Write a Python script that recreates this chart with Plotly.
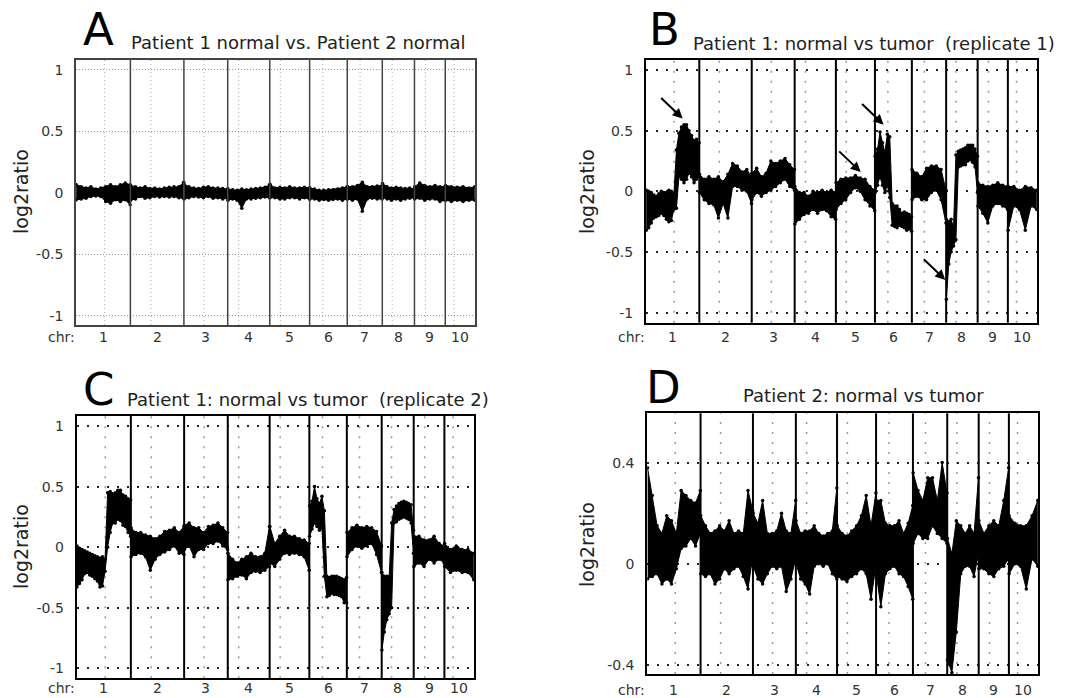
import plotly.graph_objects as go

# ---------------- data ----------------
CHR_NAMES = ["1", "2", "3", "4", "5", "6", "7", "8", "9", "10"]
CHR_LEN = [247, 243, 199, 191, 181, 171, 159, 146, 140, 135]          # Mb
CENTROMERE = [130, 93, 91, 50, 48, 60, 58, 45, 50, 40]                 # Mb within chromosome

# Upper / lower edge of the log2ratio point cloud, evenly spaced along each chromosome
A_HI = [
    [0.065, 0.05, 0.04, 0.05, 0.03, 0.04, 0.05, 0.065, 0.05, 0.065, 0.08, 0.065],
    [0.06, 0.05, 0.04, 0.05, 0.035, 0.04, 0.03, 0.04, 0.045, 0.05, 0.05, 0.085],
    [0.07, 0.05, 0.04, 0.035, 0.045, 0.05, 0.04, 0.04, 0.035, 0.03],
    [0.03, 0.025, 0.02, 0.03, 0.025, 0.03, 0.035, 0.04, 0.045, 0.065],
    [0.07, 0.04, 0.045, 0.04, 0.05, 0.04, 0.04, 0.045, 0.04],
    [0.04, 0.03, 0.02, 0.02, 0.025, 0.025, 0.03, 0.04, 0.05],
    [0.05, 0.05, 0.06, 0.085, 0.05, 0.05, 0.055, 0.06],
    [0.075, 0.05, 0.04, 0.045, 0.04, 0.035, 0.04, 0.03],
    [0.05, 0.08, 0.06, 0.05, 0.06, 0.05, 0.05],
    [0.06, 0.05, 0.045, 0.05, 0.04, 0.05],
]
A_LO = [
    [-0.057, -0.05, -0.045, -0.03, -0.025, -0.03, -0.07, -0.085, -0.057, -0.07, -0.057, -0.098],
    [-0.06, -0.05, -0.03, -0.045, -0.04, -0.03, -0.035, -0.03, -0.035, -0.03, -0.04, -0.045],
    [-0.05, -0.04, -0.03, -0.035, -0.04, -0.03, -0.045, -0.04, -0.05, -0.045],
    [-0.06, -0.05, -0.06, -0.125, -0.05, -0.05, -0.045, -0.04, -0.035, -0.04],
    [-0.04, -0.04, -0.05, -0.05, -0.04, -0.04, -0.05, -0.04, -0.05],
    [-0.05, -0.05, -0.06, -0.055, -0.06, -0.055, -0.05, -0.06, -0.05],
    [-0.05, -0.06, -0.05, -0.15, -0.05, -0.045, -0.05, -0.05],
    [-0.04, -0.05, -0.06, -0.05, -0.06, -0.05, -0.045, -0.04],
    [-0.05, -0.045, -0.06, -0.05, -0.05, -0.07, -0.06],
    [-0.06, -0.07, -0.06, -0.07, -0.06, -0.06],
]

B_HI = [
    [0.01, 0.0, -0.01, -0.03, -0.04, -0.02, 0.0, -0.01, -0.01, 0.01, 0.0,
     -0.02, 0.34, 0.48, 0.53, 0.55, 0.55, 0.5, 0.46, 0.42, 0.43, 0.4],
    [0.14, 0.1, 0.12, 0.1, 0.12, 0.08, 0.14, 0.23, 0.21, 0.16, 0.18, 0.12],
    [0.15, 0.19, 0.12, 0.15, 0.25, 0.23, 0.25, 0.27, 0.22, 0.18],
    [0.04, -0.01, -0.01, -0.04, 0.0, -0.01, 0.01, -0.01, 0.01, -0.01],
    [0.07, 0.1, 0.11, 0.11, 0.13, 0.11, 0.1, 0.04, 0.01],
    [0.29, 0.35, 0.49, 0.4, 0.32, 0.47, 0.45, -0.1, -0.12, -0.12, -0.15, -0.18,
     -0.17, -0.18, -0.19, -0.21],
    [0.18, 0.15, 0.12, 0.19, 0.21, 0.21, 0.18, 0.01],
    [-0.23, -0.25, -0.23, -0.3, 0.3, 0.33, 0.34, 0.35, 0.36, 0.38, 0.38, 0.38, 0.35, 0.29],
    [0.07, 0.05, 0.04, 0.05, 0.07, 0.05, 0.04],
    [0.04, 0.04, 0.01, 0.04, 0.03, 0.01],
]
B_LO = [
    [-0.32, -0.3, -0.26, -0.22, -0.21, -0.2, -0.18, -0.2, -0.23, -0.25, -0.24,
     -0.15, -0.14, 0.12, 0.1, 0.07, 0.1, 0.15, 0.12, 0.07, 0.1, 0.12],
    [-0.01, -0.07, -0.1, -0.11, -0.22, -0.1, -0.22, 0.04, 0.04, 0.01, 0.0, -0.1],
    [-0.07, -0.01, -0.04, -0.01, 0.01, 0.04, 0.07, 0.1, 0.04, 0.01],
    [-0.27, -0.23, -0.19, -0.18, -0.15, -0.18, -0.15, -0.16, -0.21, -0.23],
    [-0.15, -0.1, -0.07, -0.01, 0.03, 0.0, -0.07, -0.12, -0.16],
    [-0.01, 0.05, 0.12, 0.05, -0.01, 0.05, -0.05, -0.28, -0.29, -0.3, -0.28, -0.29,
     -0.3, -0.32, -0.31, -0.33],
    [-0.07, -0.04, -0.07, -0.07, -0.01, 0.01, -0.07, -0.26],
    [-0.89, -0.6, -0.5, -0.45, -0.4, 0.2, 0.21, 0.22, 0.22, 0.25, 0.26, 0.24, 0.2, -0.01],
    [-0.12, -0.18, -0.26, -0.12, -0.1, -0.12, -0.15],
    [-0.32, -0.12, -0.15, -0.32, -0.12, -0.15],
]

C_HI = [
    [0.01, -0.01, -0.02, -0.03, -0.04, -0.05, -0.06, -0.07, -0.08, -0.09, -0.08,
     -0.1, 0.45, 0.46, 0.44, 0.45, 0.47, 0.47, 0.43, 0.42, 0.4, 0.39],
    [0.16, 0.12, 0.12, 0.1, 0.09, 0.07, 0.09, 0.13, 0.14, 0.16, 0.12, 0.17],
    [0.18, 0.2, 0.16, 0.16, 0.12, 0.17, 0.18, 0.2, 0.16, 0.12],
    [-0.05, -0.1, -0.13, -0.1, -0.08, -0.05, -0.08, -0.08, -0.05, 0.17],
    [0.17, 0.03, 0.09, 0.14, 0.09, 0.09, 0.07, 0.06, 0.03],
    [0.34, 0.38, 0.5, 0.4, 0.36, 0.42, 0.3, -0.24, -0.25, -0.24, -0.24, -0.24,
     -0.25, -0.26, -0.27, -0.25],
    [0.12, 0.16, 0.18, 0.16, 0.17, 0.16, 0.13, 0.01],
    [-0.21, -0.24, -0.24, -0.24, 0.2, 0.31, 0.34, 0.36, 0.37, 0.38, 0.37, 0.36, 0.35, 0.14],
    [0.09, 0.09, 0.06, 0.06, 0.09, 0.03, 0.01],
    [0.03, -0.02, 0.01, -0.02, -0.02, -0.05],
]
C_LO = [
    [-0.33, -0.3, -0.27, -0.22, -0.21, -0.23, -0.24, -0.26, -0.28, -0.33, -0.32,
     -0.2, 0.0, 0.12, 0.2, 0.2, 0.23, 0.22, 0.18, 0.17, 0.12, 0.09],
    [-0.08, -0.06, -0.05, -0.08, -0.19, -0.1, -0.06, -0.04, -0.02, 0.01, -0.05, -0.06],
    [-0.02, 0.01, -0.08, -0.02, -0.02, 0.03, 0.03, 0.05, 0.01, -0.02],
    [-0.27, -0.26, -0.24, -0.23, -0.26, -0.21, -0.2, -0.21, -0.19, -0.16],
    [-0.13, -0.16, -0.1, -0.05, -0.06, -0.05, -0.06, -0.08, -0.19],
    [0.09, 0.15, 0.2, 0.17, 0.14, 0.16, -0.24, -0.41, -0.4, -0.38, -0.39, -0.39,
     -0.4, -0.41, -0.46, -0.46],
    [-0.08, -0.02, 0.01, -0.01, 0.01, 0.03, -0.06, -0.21],
    [-0.85, -0.7, -0.6, -0.55, -0.5, 0.2, 0.21, 0.23, 0.24, 0.25, 0.24, 0.23, 0.2, -0.05],
    [-0.16, -0.13, -0.16, -0.1, -0.13, -0.1, -0.13],
    [-0.16, -0.21, -0.19, -0.21, -0.21, -0.27],
]

D_HI = [
    [0.38, 0.27, 0.15, 0.12, 0.19, 0.17, 0.12, 0.29, 0.27, 0.25, 0.24, 0.29],
    [0.19, 0.15, 0.12, 0.13, 0.15, 0.13, 0.17, 0.12, 0.13, 0.12, 0.29, 0.21],
    [0.2, 0.16, 0.25, 0.12, 0.12, 0.13, 0.2, 0.13, 0.12, 0.25],
    [0.17, 0.12, 0.13, 0.13, 0.15, 0.12, 0.11, 0.12, 0.13, 0.3],
    [0.15, 0.12, 0.11, 0.13, 0.15, 0.19, 0.27, 0.15, 0.28],
    [0.25, 0.25, 0.16, 0.15, 0.15, 0.17, 0.12, 0.16, 0.23],
    [0.36, 0.29, 0.25, 0.34, 0.34, 0.25, 0.4, 0.28],
    [0.1, 0.04, 0.17, 0.15, 0.12, 0.15, 0.12, 0.34],
    [0.17, 0.12, 0.15, 0.17, 0.15, 0.25, 0.38],
    [0.19, 0.16, 0.15, 0.15, 0.19, 0.25],
]
D_LO = [
    [-0.06, -0.05, -0.04, -0.08, -0.06, -0.08, -0.02, 0.06, 0.07, 0.1, 0.07, 0.12],
    [-0.04, -0.05, -0.04, -0.08, -0.06, -0.02, -0.04, -0.02, -0.01, -0.05, -0.1, 0.03],
    [-0.01, -0.06, -0.08, -0.04, -0.01, -0.02, -0.01, -0.11, -0.06, 0.02],
    [0.0, -0.06, -0.08, -0.12, -0.01, 0.0, -0.01, 0.0, -0.04, -0.06],
    [-0.05, -0.06, -0.07, -0.05, -0.04, -0.02, -0.04, -0.14, -0.01],
    [-0.04, -0.17, -0.04, -0.02, -0.01, -0.04, -0.05, -0.09, -0.14],
    [0.08, 0.12, 0.1, 0.1, 0.15, 0.12, 0.1, 0.08],
    [-0.38, -0.43, -0.27, -0.04, -0.01, -0.01, -0.05, 0.04],
    [-0.02, -0.02, -0.04, -0.05, -0.02, -0.01, 0.02],
    [-0.04, 0.0, -0.01, -0.1, 0.02, -0.01],
]

PANEL_LETTERS = ["A", "B", "C", "D"]
PANEL_TITLES = [
    "Patient 1 normal vs. Patient 2 normal",
    "Patient 1: normal vs tumor  (replicate 1)",
    "Patient 1: normal vs tumor  (replicate 2)",
    "Patient 2: normal vs tumor",
]
Y_TICKS_FULL = [1, 0.5, 0, -0.5, -1]
Y_TICKTEXT_FULL = ["1", "0.5", "0", "-0.5", "-1"]
Y_TICKS_D = [0.4, 0, -0.4]
Y_TICKTEXT_D = ["0.4", "0", "-0.4"]

# arrows in panel B: (genome position Mb, log2ratio of arrow tip)
B_ARROW_X = [170, 1101, 995, 1387]
B_ARROW_Y = [0.60, 0.55, 0.16, -0.73]

# ---------------- layout helpers ----------------
W, H = 1071, 698
FONT = "DejaVu Sans"

chr_start = []
acc = 0
for L in CHR_LEN:
    chr_start.append(acc)
    acc += L
GENOME = acc
chr_mid = [s + L / 2 for s, L in zip(chr_start, CHR_LEN)]

# panel frames in pixels: (left, top, right, bottom)
FRAMES = [
    (76, 60, 475, 325),
    (646, 60, 1037, 322.7),
    (76.7, 416, 474, 678.3),
    (647.3, 413.3, 1038, 674),
]
YRANGES = [[-1.075, 1.08], [-1.083, 1.083], [-1.083, 1.083], [-0.436, 0.595]]

fig = go.Figure()

panels = [(A_HI, A_LO), (B_HI, B_LO), (C_HI, C_LO), (D_HI, D_LO)]
for p, (HI, LO) in enumerate(panels):
    xa = "x" if p == 0 else f"x{p+1}"
    ya = "y" if p == 0 else f"y{p+1}"
    for c in range(10):
        n = len(HI[c])
        s, L = chr_start[c], CHR_LEN[c]
        xs = [s + 1 + (L - 2) * i / (n - 1) for i in range(n)]
        fig.add_trace(go.Scatter(
            x=xs, y=HI[c], xaxis=xa, yaxis=ya, mode="lines+markers",
            line=dict(color="black", width=1), marker=dict(size=3.5, color="black"),
            showlegend=False, hoverinfo="skip"))
        fig.add_trace(go.Scatter(
            x=xs, y=LO[c], xaxis=xa, yaxis=ya, mode="lines+markers",
            line=dict(color="black", width=1), marker=dict(size=3.5, color="black"),
            fill="tonexty", fillcolor="black",
            showlegend=False, hoverinfo="skip"))

layout = dict(
    width=W, height=H, margin=dict(l=0, r=0, t=0, b=0),
    paper_bgcolor="white", plot_bgcolor="white", showlegend=False,
    font=dict(family=FONT, color="#222"),
)
shapes = []
annotations = []
CHR_LAB_Y = [337, 337, 688, 690]
for p in range(4):
    l, t, r, b = FRAMES[p]
    xk = "xaxis" if p == 0 else f"xaxis{p+1}"
    yk = "yaxis" if p == 0 else f"yaxis{p+1}"
    xa = "x" if p == 0 else f"x{p+1}"
    ya = "y" if p == 0 else f"y{p+1}"
    frame_col = "#444" if p == 0 else "black"
    frame_w = 1.5 if p == 0 else 2
    layout[xk] = dict(
        domain=[l / W, r / W], range=[0, GENOME], anchor=ya,
        showgrid=False, zeroline=False, showline=True, mirror=True,
        linecolor=frame_col, linewidth=frame_w,
        showticklabels=False, ticks="",
    )
    if p == 3:
        tv, tt = Y_TICKS_D, Y_TICKTEXT_D
    else:
        tv, tt = Y_TICKS_FULL, Y_TICKTEXT_FULL
    if p == 0:
        gcol, gdash, gw = "#9a9a9a", "1px,2px", 1
    else:
        gcol, gdash, gw = "#222", "2px,8px", 1.5
    layout[yk] = dict(
        domain=[1 - b / H, 1 - t / H], range=YRANGES[p], anchor=xa,
        showgrid=True, gridcolor=gcol, griddash=gdash, gridwidth=gw,
        zeroline=False, showline=True, mirror=True,
        linecolor=frame_col, linewidth=frame_w,
        tickvals=tv, ticktext=tt, ticks="",
        tickfont=dict(size=14, color="#333", family=FONT), ticklabelstandoff=8,
    )
    # chromosome number labels under the frame
    for c in range(10):
        annotations.append(dict(
            text=CHR_NAMES[c], x=chr_mid[c], xref=xa, y=1 - CHR_LAB_Y[p] / H, yref="paper",
            xanchor="center", yanchor="middle", showarrow=False,
            font=dict(size=14, color="#333", family=FONT)))
    # centromere dotted lines
    for c in range(10):
        cx = chr_start[c] + CENTROMERE[c]
        shapes.append(dict(
            type="line", xref=xa, yref=f"{ya} domain", x0=cx, x1=cx, y0=0, y1=1,
            layer="below",
            line=dict(color="#aaa" if p == 0 else "#999",
                      width=1 if p == 0 else 1.5,
                      dash="1px,3px" if p == 0 else "2px,8px")))
    # chromosome boundaries
    for c in range(1, 10):
        bx = chr_start[c]
        shapes.append(dict(
            type="line", xref=xa, yref=f"{ya} domain", x0=bx, x1=bx, y0=0, y1=1,
            layer="above", line=dict(color=frame_col, width=frame_w)))

# texts
LETTER_POS = [(98, 29), (664, 29), (98, 389), (663, 387)]
TITLE_POS = [(129, 43), (691, 44), (125, 399), (741, 395)]
YLAB_POS = [(21, 192), (587, 192), (21, 547), (587, 545)]
CHR_LAB_X = [77, 647, 77, 647]
for p in range(4):
    lx, ly = LETTER_POS[p]
    annotations.append(dict(
        text=PANEL_LETTERS[p], x=lx / W, y=1 - ly / H, xref="paper", yref="paper",
        xanchor="center", yanchor="middle", showarrow=False,
        font=dict(size=45, color="black", family=FONT)))
    tx, ty = TITLE_POS[p]
    annotations.append(dict(
        text=PANEL_TITLES[p].replace("  ", "&nbsp; "), x=tx / W, y=1 - ty / H,
        xref="paper", yref="paper", xanchor="left", yanchor="middle", showarrow=False,
        font=dict(size=18, color="#222", family=FONT)))
    yx, yy = YLAB_POS[p]
    annotations.append(dict(
        text="log2ratio", x=yx / W, y=1 - yy / H, xref="paper", yref="paper",
        xanchor="center", yanchor="middle", textangle=-90, showarrow=False,
        font=dict(size=19, color="#222", family=FONT)))
    annotations.append(dict(
        text="chr:", x=CHR_LAB_X[p] / W, y=1 - CHR_LAB_Y[p] / H, xref="paper", yref="paper",
        xanchor="right", yanchor="middle", showarrow=False,
        font=dict(size=14, color="#333", family=FONT)))

for ax_x, ax_y in zip(B_ARROW_X, B_ARROW_Y):
    annotations.append(dict(
        x=ax_x, y=ax_y, xref="x2", yref="y2", ax=-23, ay=-22, text="",
        showarrow=True, arrowhead=2, arrowsize=1, arrowwidth=2, arrowcolor="black"))

layout["shapes"] = shapes
layout["annotations"] = annotations
fig.update_layout(**layout)
fig.write_html(
    "out.html",
    config={"displayModeBar": False},
    post_script="document.body.style.margin='0';document.body.style.overflow='hidden';",
)
